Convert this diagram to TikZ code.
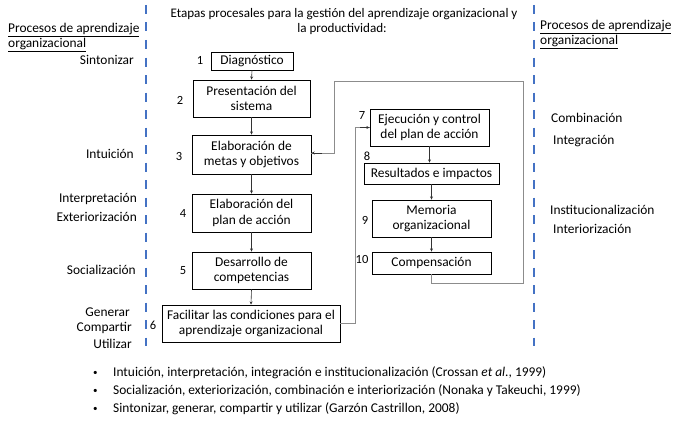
\documentclass[tikz,border=0pt]{standalone}
\usepackage{fontspec}
\setmainfont{Carlito}
\usetikzlibrary{arrows.meta}
\definecolor{dashblue}{HTML}{4472C4}
\definecolor{loopgray}{HTML}{8C8C8C}
\begin{document}
\begin{tikzpicture}[x=1pt,y=-1pt,
  every node/.style={font=\fontsize{13.4}{15.5}\selectfont},
  stage/.style={draw=black,line width=0.9pt,align=center,inner sep=0pt},
  lbl/.style={inner sep=0pt},
  num/.style={inner sep=0pt,font=\fontsize{12.5}{14}\selectfont},
  bul/.style={inner sep=0pt,font=\fontsize{9}{10}\selectfont},
  flow/.style={-{Stealth[length=3.2pt,width=3pt]},line width=0.6pt,draw=black!80},
  loopline/.style={line width=0.8pt,draw=loopgray},
  sep/.style={draw=dashblue,line width=2.8pt,dash pattern=on 9pt off 8.5pt}]
\useasboundingbox (0,0) rectangle (700,420);
% separators
\draw[sep] (146,5) -- (146,346);
\draw[sep] (534,5) -- (534,346);
% title
\node[lbl,font=\fontsize{13.1}{15.5}\selectfont] (t1) at (344,14) {Etapas procesales para la gestión del aprendizaje organizacional y};
\node[lbl,font=\fontsize{13.1}{15.5}\selectfont] (t2) at (342,29) {la productividad:};
% headers
\node[lbl,anchor=west] (lh1) at (8,30) {\underline{Procesos de aprendizaje}};
\node[lbl,anchor=west] (lh2) at (8,45) {\underline{organizacional}};
\node[lbl,anchor=west] (rh1) at (540,27) {\underline{Procesos de aprendizaje}};
\node[lbl,anchor=west] (rh2) at (540,42) {\underline{organizacional}};
% left labels
\node[lbl,anchor=east] (l0) at (134,60) {Sintonizar};
\node[lbl,anchor=east] (l1) at (134,154) {Intuición};
\node[lbl,anchor=east] (l2) at (137,199) {Interpretación};
\node[lbl,anchor=east] (l3) at (137,217) {Exteriorización};
\node[lbl,anchor=east] (l4) at (136,270) {Socialización};
\node[lbl,anchor=east] (l5) at (130,312) {Generar};
\node[lbl,anchor=east] (l6) at (132,328) {Compartir};
\node[lbl,anchor=east] (l7) at (132,344) {Utilizar};
% right labels
\node[lbl,anchor=west] (r1) at (551,118) {Combinación};
\node[lbl,anchor=west] (r2) at (553,141) {Integración};
\node[lbl,anchor=west] (r3) at (550,210) {Institucionalización};
\node[lbl,anchor=west] (r4) at (553,229) {Interiorización};
% boxes left column
\node[stage,minimum width=82pt,minimum height=18pt] (b1) at (252,61) {Diagnóstico};
\node[stage,minimum width=117pt,minimum height=37pt] (b2) at (251.5,98.5) {Presentación del\\sistema};
\node[stage,minimum width=119pt,minimum height=39pt] (b3) at (251.5,154.5) {Elaboración de\\metas y objetivos};
\node[stage,minimum width=119pt,minimum height=38pt] (b4) at (251.5,213) {Elaboración del\\plan de acción};
\node[stage,minimum width=119pt,minimum height=37pt] (b5) at (251.5,270.5) {Desarrollo de\\competencias};
\node[stage,minimum width=178pt,minimum height=37pt] (b6) at (251,323.5) {Facilitar las condiciones para el\\aprendizaje organizacional};
% boxes right column
\node[stage,minimum width=119pt,minimum height=37pt] (b7) at (429.5,127.5) {Ejecución y control\\del plan de acción};
\node[stage,minimum width=135pt,minimum height=21pt] (b8) at (431.5,173.5) {Resultados e impactos};
\node[stage,minimum width=119pt,minimum height=37pt] (b9) at (431.5,218.5) {Memoria\\organizacional};
\node[stage,minimum width=119pt,minimum height=22pt] (b10) at (431.5,263) {Compensación};
% numbers
\node[num] (n1) at (200,60) {1};
\node[num] (n2) at (180,100) {2};
\node[num] (n3) at (179,156) {3};
\node[num] (n4) at (183,213) {4};
\node[num] (n5) at (183,271) {5};
\node[num] (n6) at (153,325) {6};
\node[num] (n7) at (362,115) {7};
\node[num] (n8) at (367,156) {8};
\node[num] (n9) at (365,220) {9};
\node[num] (n10) at (362,259) {10};
% flow arrows
\draw[flow] (b1.south) -- (b2.north);
\draw[flow] (b2.south) -- (b3.north);
\draw[flow] (b3.south) -- (b4.north);
\draw[flow] (b4.south) -- (b5.north);
\draw[flow] (b5.south) -- (b6.north);
\draw[flow] (b7.south) -- (b7.south|-b8.north);
\draw[flow] (b8.south-|b9.north) -- (b9.north);
\draw[flow] (b9.south) -- (b10.north);
% loops
\coordinate (c1) at (355,323.5);
\draw[loopline] (b6.east) -- (c1) |- (b7.west);
\draw[flow] (360,127.5) -- (b7.west);
\coordinate (d1) at (431.5,283);
\coordinate (d2) at (523,81);
\coordinate (d3) at (334,153);
\draw[loopline] (b10.south) -- (d1) -| (d2) -| (d3) -- (b3.east|-d3);
\draw[flow] (322,153) -- (b3.east|-d3);
% bullets
\node[bul,anchor=west] (i1) at (93,373) {•};
\node[bul,anchor=west] (i2) at (93,391) {•};
\node[bul,anchor=west] (i3) at (93,409) {•};
\node[lbl,anchor=west] (p1) at (113,373) {Intuición, interpretación, integración e institucionalización (Crossan \textit{et al.}, 1999)};
\node[lbl,anchor=west] (p2) at (113,391) {Socialización, exteriorización, combinación e interiorización (Nonaka y Takeuchi, 1999)};
\node[lbl,anchor=west] (p3) at (113,409) {Sintonizar, generar, compartir y utilizar (Garzón Castrillon, 2008)};
\end{tikzpicture}
\end{document}
